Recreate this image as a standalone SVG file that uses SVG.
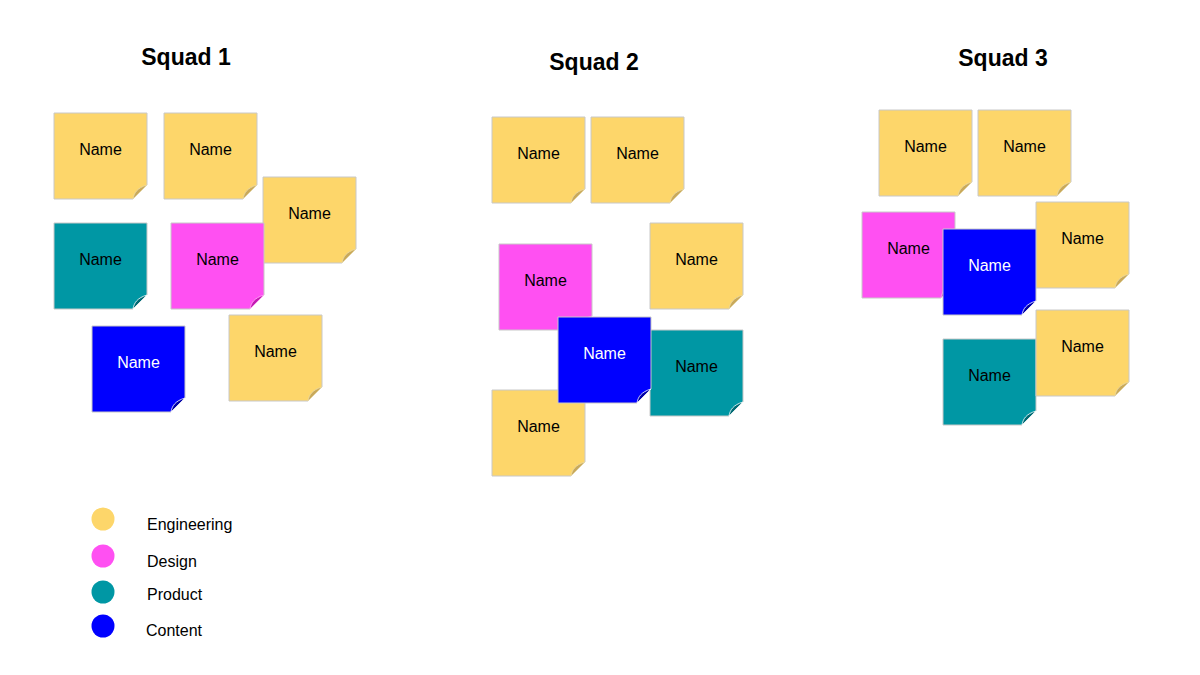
<svg xmlns="http://www.w3.org/2000/svg" width="1200" height="675" viewBox="0 0 1200 675">
<style>
.body{stroke:#c8c8c8;stroke-width:1}
.eng{fill:#fdd66a}
.des{fill:#ff50f2}
.pro{fill:#0097a4}
.con{fill:#0000ff}
.fold{stroke-width:0.8;stroke-linejoin:round}
.feng{fill:#c9a95a;stroke:#e8d9a8}
.fdes{fill:#c41ab4;stroke:#ffb0f5}
.fpro{fill:#006a74;stroke:#ffffff}
.fcon{fill:#0000a8;stroke:#ffffff}
.lbl{font-family:"Liberation Sans",Arial,sans-serif;font-size:16px;text-anchor:middle;fill:#000}
.lw{fill:#fff}
.title{font-family:"Liberation Sans",Arial,sans-serif;font-size:23px;font-weight:bold;text-anchor:middle;fill:#000}
.leg{font-family:"Liberation Sans",Arial,sans-serif;font-size:16px;fill:#000}
</style>
<defs>
<path id="nb" d="M0,0 H93 V72 L79,86 H0 Z"/>
<path id="nf" d="M79,86 C80,80 83,75 93,72 Z"/>
</defs>
<rect width="1200" height="675" fill="#fff"/>
<g id="titles">
<text class="title" x="186" y="65">Squad 1</text>
<text class="title" x="594" y="70">Squad 2</text>
<text class="title" x="1003" y="66">Squad 3</text>
</g>
<g id="connectors"/>
<!-- Squad 1 -->
<g id="s1n1" transform="translate(54,113)"><use href="#nb" class="body eng"/><use href="#nf" class="fold feng"/><text class="lbl" x="46.5" y="42">Name</text></g>
<g id="s1n2" transform="translate(164,113)"><use href="#nb" class="body eng"/><use href="#nf" class="fold feng"/><text class="lbl" x="46.5" y="42">Name</text></g>
<g id="s1n3" transform="translate(263,177)"><use href="#nb" class="body eng"/><use href="#nf" class="fold feng"/><text class="lbl" x="46.5" y="42">Name</text></g>
<g id="s1n4" transform="translate(54,223)"><use href="#nb" class="body pro"/><use href="#nf" class="fold fpro"/><text class="lbl" x="46.5" y="42">Name</text></g>
<g id="s1n5" transform="translate(171,223)"><use href="#nb" class="body des"/><use href="#nf" class="fold fdes"/><text class="lbl" x="46.5" y="42">Name</text></g>
<g id="s1n6" transform="translate(229,315)"><use href="#nb" class="body eng"/><use href="#nf" class="fold feng"/><text class="lbl" x="46.5" y="42">Name</text></g>
<g id="s1n7" transform="translate(92,326)"><use href="#nb" class="body con"/><use href="#nf" class="fold fcon"/><text class="lbl lw" x="46.5" y="42">Name</text></g>
<!-- Squad 2 -->
<g id="s2n1" transform="translate(492,117)"><use href="#nb" class="body eng"/><use href="#nf" class="fold feng"/><text class="lbl" x="46.5" y="42">Name</text></g>
<g id="s2n2" transform="translate(591,117)"><use href="#nb" class="body eng"/><use href="#nf" class="fold feng"/><text class="lbl" x="46.5" y="42">Name</text></g>
<g id="s2n3" transform="translate(650,223)"><use href="#nb" class="body eng"/><use href="#nf" class="fold feng"/><text class="lbl" x="46.5" y="42">Name</text></g>
<g id="s2n4" transform="translate(499,244)"><use href="#nb" class="body des"/><use href="#nf" class="fold fdes"/><text class="lbl" x="46.5" y="42">Name</text></g>
<g id="s2n5" transform="translate(492,390)"><use href="#nb" class="body eng"/><use href="#nf" class="fold feng"/><text class="lbl" x="46.5" y="42">Name</text></g>
<g id="s2n6" transform="translate(650,330)"><use href="#nb" class="body pro"/><use href="#nf" class="fold fpro"/><text class="lbl" x="46.5" y="42">Name</text></g>
<g id="s2n7" transform="translate(558,317)"><use href="#nb" class="body con"/><use href="#nf" class="fold fcon"/><text class="lbl lw" x="46.5" y="42">Name</text></g>
<!-- Squad 3 -->
<g id="s3n1" transform="translate(879,110)"><use href="#nb" class="body eng"/><use href="#nf" class="fold feng"/><text class="lbl" x="46.5" y="42">Name</text></g>
<g id="s3n2" transform="translate(978,110)"><use href="#nb" class="body eng"/><use href="#nf" class="fold feng"/><text class="lbl" x="46.5" y="42">Name</text></g>
<g id="s3n3" transform="translate(862,212)"><use href="#nb" class="body des"/><use href="#nf" class="fold fdes"/><text class="lbl" x="46.5" y="42">Name</text></g>
<g id="s3n4" transform="translate(1036,202)"><use href="#nb" class="body eng"/><use href="#nf" class="fold feng"/><text class="lbl" x="46.5" y="42">Name</text></g>
<g id="s3n5" transform="translate(943,229)"><use href="#nb" class="body con"/><use href="#nf" class="fold fcon"/><text class="lbl lw" x="46.5" y="42">Name</text></g>
<g id="s3n6" transform="translate(943,339)"><use href="#nb" class="body pro"/><use href="#nf" class="fold fpro"/><text class="lbl" x="46.5" y="42">Name</text></g>
<g id="s3n7" transform="translate(1036,310)"><use href="#nb" class="body eng"/><use href="#nf" class="fold feng"/><text class="lbl" x="46.5" y="42">Name</text></g>
<!-- Legend -->
<g id="legend">
<circle cx="103" cy="519" r="11.5" class="eng"/>
<circle cx="103" cy="556" r="11.5" class="des"/>
<circle cx="103" cy="592" r="11.5" class="pro"/>
<circle cx="103" cy="626" r="11.5" class="con"/>
<text class="leg" x="147" y="530">Engineering</text>
<text class="leg" x="147" y="567">Design</text>
<text class="leg" x="147" y="600">Product</text>
<text class="leg" x="146" y="636">Content</text>
</g>
</svg>
